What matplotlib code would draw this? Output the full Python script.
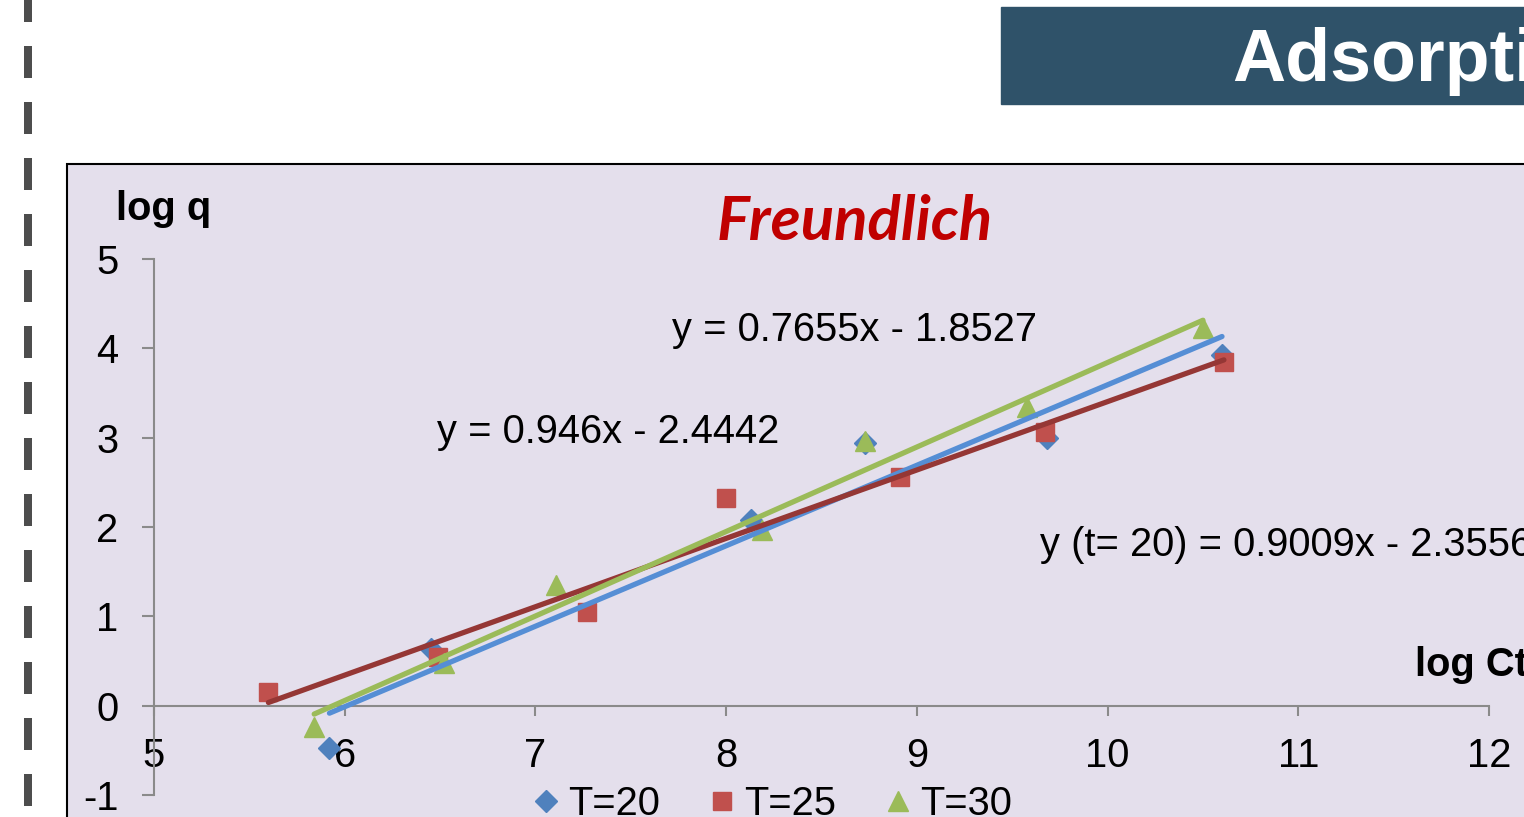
import numpy as np
import matplotlib
matplotlib.use("Agg")
import matplotlib.pyplot as plt
from matplotlib.patches import Rectangle
from matplotlib.lines import Line2D

plt.rcParams['font.family'] = ['Liberation Sans', 'DejaVu Sans']
plt.rcParams['axes.unicode_minus'] = False

# log Ct / log q readings for each temperature
x_t20 = [5.92, 6.45, 8.13, 8.73, 9.68, 10.60]
y_t20 = [-0.47, 0.63, 2.08, 2.94, 3.00, 3.92]
x_t25 = [5.60, 6.49, 7.27, 8.00, 8.91, 9.67, 10.61]
y_t25 = [0.15, 0.54, 1.05, 2.32, 2.56, 3.06, 3.85]
x_t30 = [5.84, 6.52, 7.11, 8.19, 8.73, 9.58, 10.50]
y_t30 = [-0.24, 0.48, 1.35, 1.97, 2.96, 3.34, 4.23]

# trendline slopes as printed on the chart
slope_t20 = 0.9009
slope_t25 = 0.7655
slope_t30 = 0.946

series_names = ['T=20', 'T=25', 'T=30']
eq_t20 = 'y (t= 20) = 0.9009x - 2.3556'
eq_t25 = 'y = 0.7655x - 1.8527'
eq_t30 = 'y = 0.946x - 2.4442'

W, H = 1524, 817
fs = 28.7
fig = plt.figure(figsize=(W / 100, H / 100), dpi=100)
fig.patch.set_facecolor('white')

# slide decorations: dashed rule on the left, title banner
fig.add_artist(Line2D([28 / W, 28 / W], [1, 0], transform=fig.transFigure,
                      lw=5.76, color='#4d4d4d', dash_capstyle='butt',
                      linestyle=(1.25, (4.0, 3.0))))
fig.add_artist(Rectangle((1001 / W, 1 - 104 / H), 0.5, 97 / H,
                         transform=fig.transFigure, color='#2F5269', zorder=-1))
fig.text(1232 / W, 1 - 62 / H, 'Adsorption', color='white', fontsize=53,
         fontweight='bold', va='center', ha='left')

# chart area frame
fig.add_artist(Rectangle((67 / W, -0.05), 1.0, 0.05 + (H - 164) / H,
                         transform=fig.transFigure, facecolor='#E4DFEC',
                         edgecolor='black', lw=1.5, zorder=-1))

ax = fig.add_axes([154 / W, 22 / H, 1335 / W, 536 / H])
ax.set_facecolor('none')
ax.set_xlim(5, 12)
ax.set_ylim(-1, 5)

axis_col = '#8a8a8a'
for s in ['top', 'right']:
    ax.spines[s].set_visible(False)
ax.spines['bottom'].set_position(('data', 0))
ax.spines['left'].set_color(axis_col)
ax.spines['bottom'].set_color(axis_col)
ax.spines['left'].set_linewidth(1.5)
ax.spines['bottom'].set_linewidth(1.5)
ax.set_xticks(range(5, 13))
ax.set_yticks(range(-1, 6))
ax.tick_params(axis='x', direction='out', length=7.5, width=1.5, color=axis_col,
               labelsize=fs, pad=15)
ax.tick_params(axis='y', direction='out', length=8.5, width=1.5, color=axis_col,
               labelsize=fs, pad=17)

ms = 13.5
ax.plot(x_t20, y_t20, 'D', color='#4F81BD', ms=ms * 0.85, zorder=3, clip_on=False)
ax.plot(x_t25, y_t25, 's', color='#C0504D', ms=ms, zorder=3, clip_on=False)
ax.plot(x_t30, y_t30, '^', color='#9BBB59', ms=ms * 1.05, zorder=3, clip_on=False)


def trend(xs, ys, m):
    # line with the printed slope passing through the data centroid
    xs = np.array(xs)
    ys = np.array(ys)
    b = ys.mean() - m * xs.mean()
    xx = np.array([xs.min(), xs.max()])
    return xx, m * xx + b


for xs, ys, m, c in [(x_t20, y_t20, slope_t20, '#558ED5'),
                     (x_t25, y_t25, slope_t25, '#953735'),
                     (x_t30, y_t30, slope_t30, '#9BBB59')]:
    tx, ty = trend(xs, ys, m)
    ax.plot(tx, ty, color=c, lw=3.8, solid_capstyle='round', zorder=4)

ax.text(7.716, 4.21, eq_t25, fontsize=fs, va='center', ha='left')
ax.text(6.484, 3.067, eq_t30, fontsize=fs, va='center', ha='left')
ax.text(9.646, 1.80, eq_t20, fontsize=fs, va='center', ha='left')

ax.text(4.80, 5.56, 'log q', fontsize=fs, fontweight='bold', va='center', ha='left')
ax.text(11.61, 0.46, 'log Ct', fontsize=fs, fontweight='bold', va='center', ha='left')
ax.text(8.676, 5.41, 'Freundlich', fontsize=44.5, fontweight='bold', style='italic',
        color='#C00000', va='center', ha='center', family=['Lato', 'DejaVu Sans'])

handles = [Line2D([], [], ls='none', marker='D', color='#4F81BD', ms=ms * 0.85),
           Line2D([], [], ls='none', marker='s', color='#C0504D', ms=ms),
           Line2D([], [], ls='none', marker='^', color='#9BBB59', ms=ms * 1.05)]
fig.legend(handles, series_names, loc='center', ncol=3, frameon=False,
           bbox_to_anchor=(773 / W, 1 - 804 / H), fontsize=fs,
           handlelength=0.6, handletextpad=0.25, columnspacing=1.25,
           borderpad=0, borderaxespad=0)

fig.savefig('out.png', dpi=100)
